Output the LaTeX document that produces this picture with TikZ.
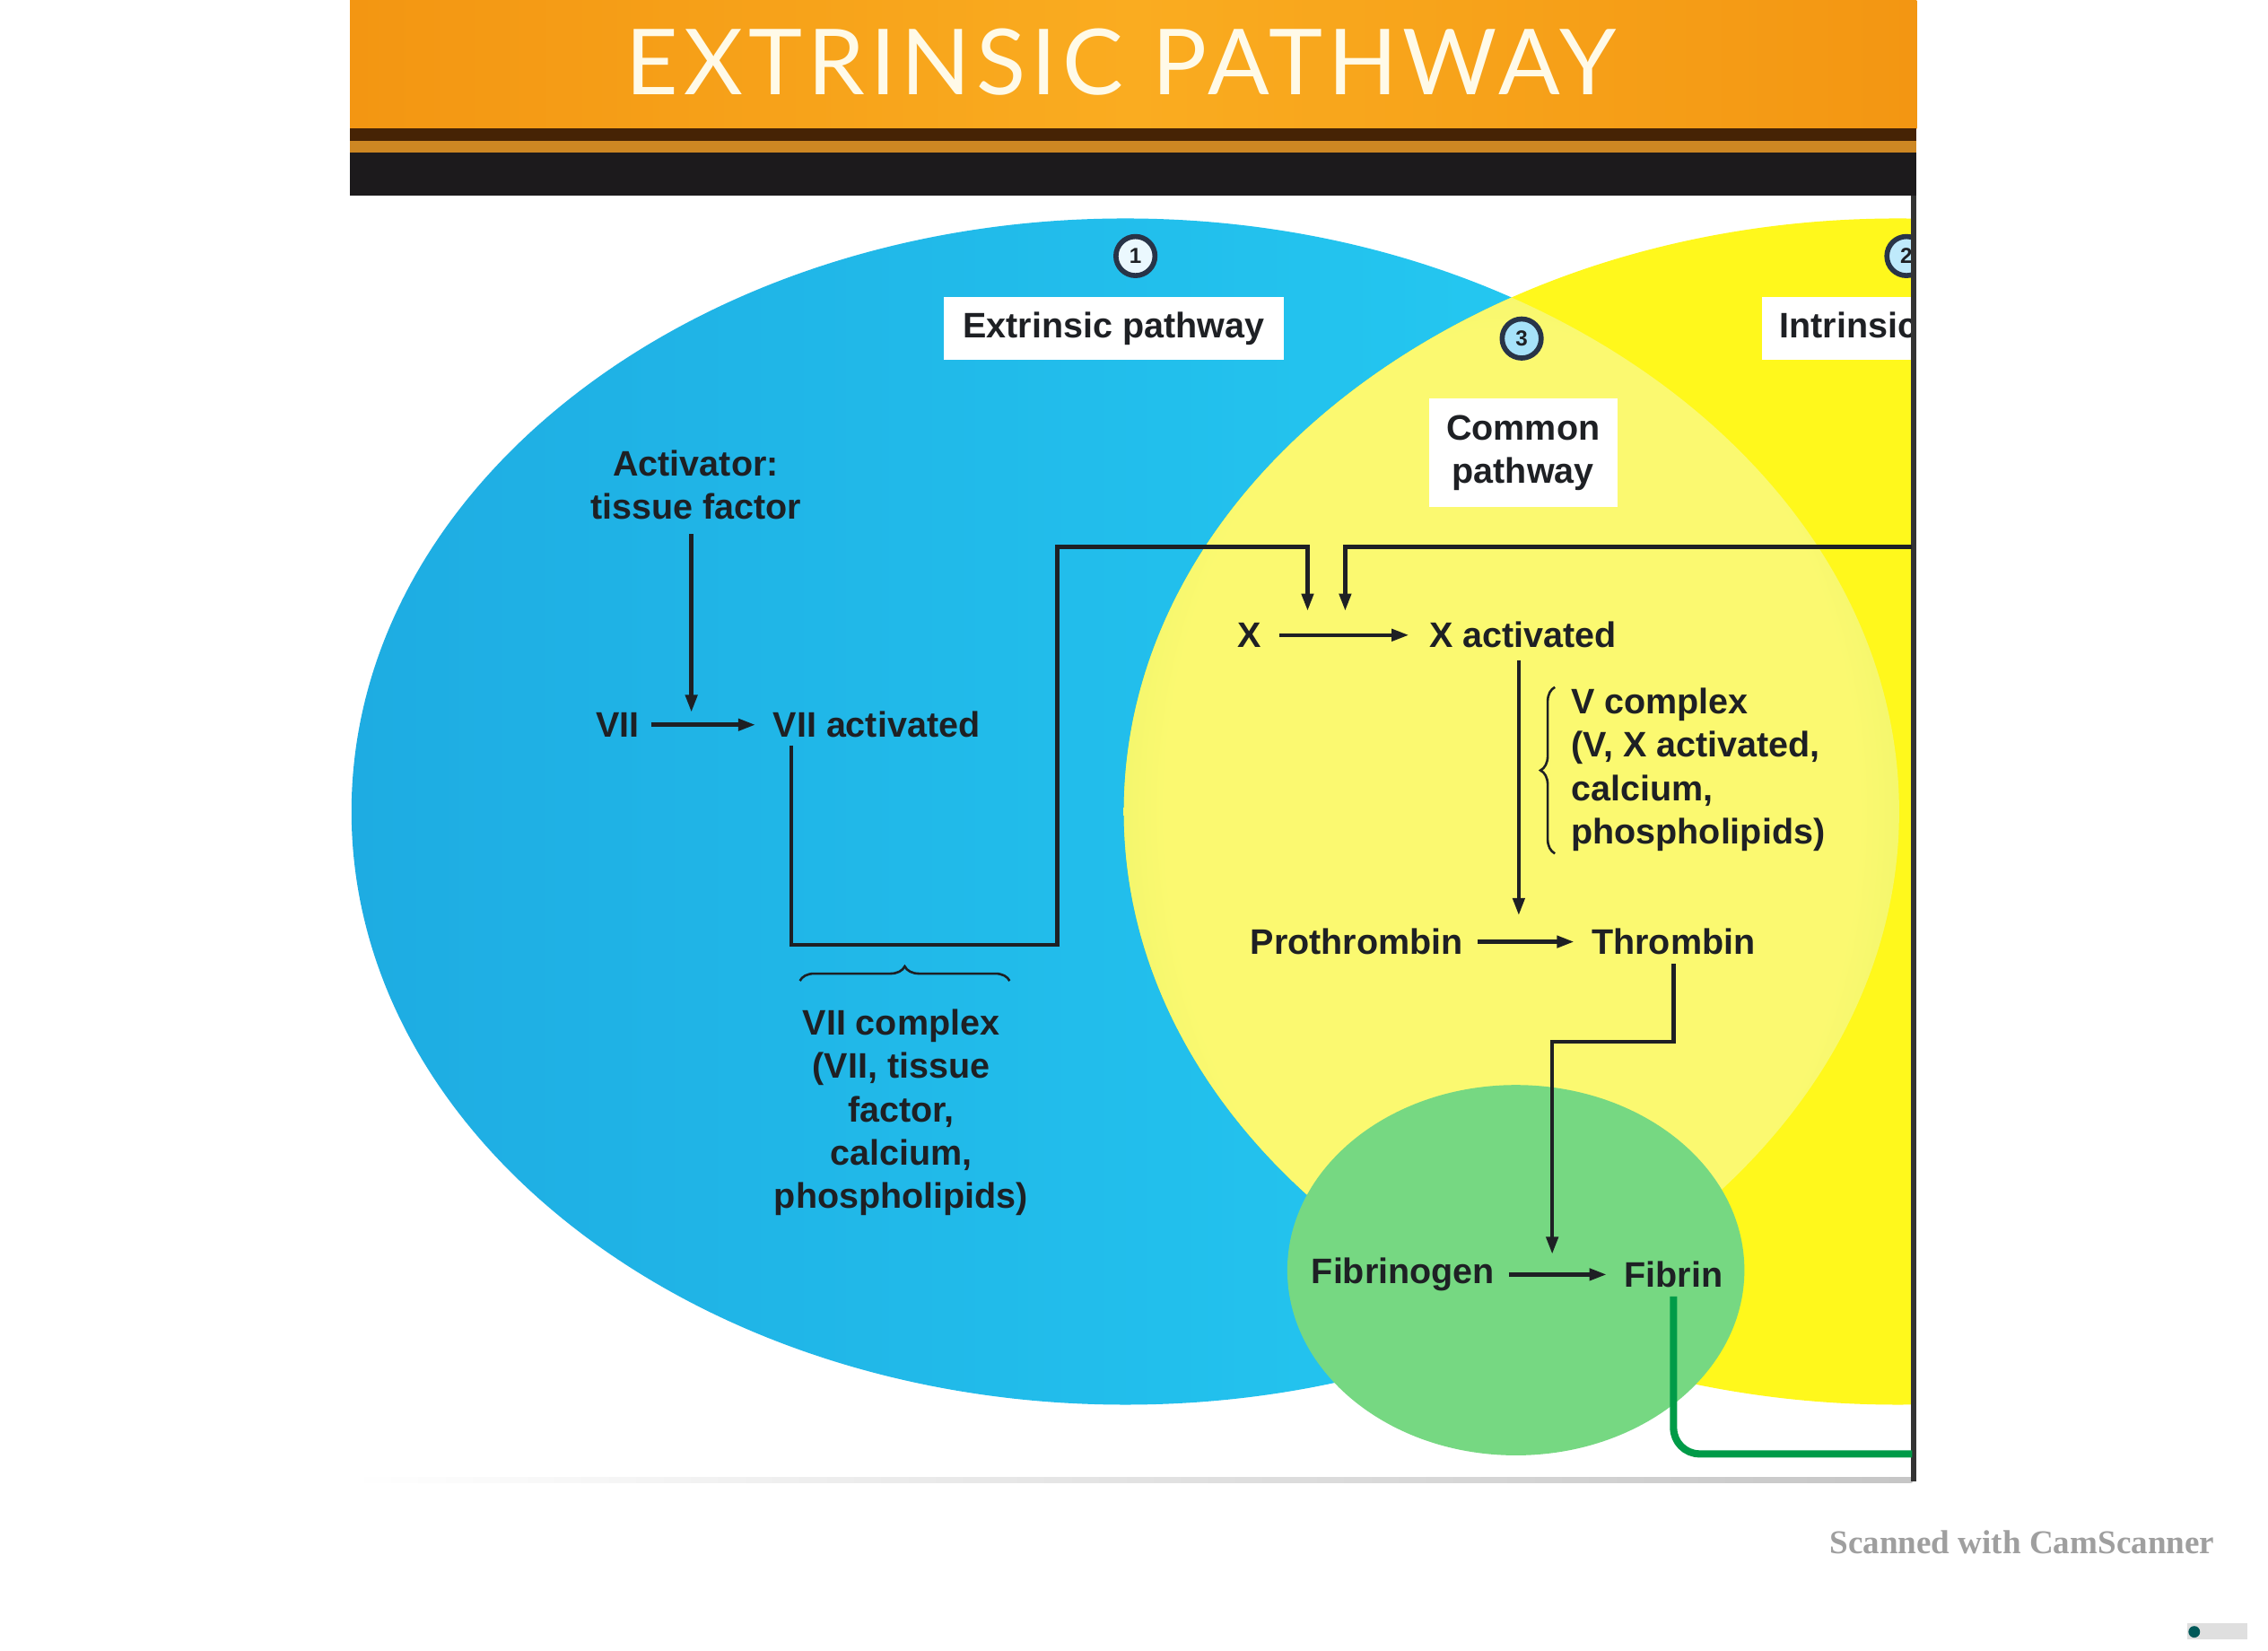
\documentclass[tikz,border=0pt]{standalone}
\usepackage{fontspec}
\setmainfont{Liberation Sans}
\newfontfamily\titlefont[LetterSpace=6]{Lato}
\newfontfamily\scanfont{Liberation Serif}
\usetikzlibrary{arrows.meta,positioning,calc,decorations.pathreplacing}

\definecolor{bandorange}{RGB}{243,150,18}
\definecolor{bandlight}{RGB}{250,172,32}
\definecolor{banddark}{RGB}{70,35,5}
\definecolor{bandstripe}{RGB}{205,135,35}
\definecolor{bandblack}{RGB}{28,26,28}
\definecolor{titlecream}{RGB}{255,250,232}
\definecolor{blueL}{RGB}{30,172,226}
\definecolor{blueR}{RGB}{38,208,245}
\definecolor{yellowfill}{RGB}{255,248,28}
\definecolor{lensin}{RGB}{251,249,112}
\definecolor{lensout}{RGB}{196,230,88}
\definecolor{greenin}{RGB}{118,216,130}
\definecolor{greenout}{RGB}{92,194,104}
\definecolor{inkdark}{RGB}{30,32,36}
\definecolor{ringnavy}{RGB}{40,52,72}
\definecolor{fibgreen}{RGB}{0,155,72}

\pgfdeclareradialshading{lensshade}{\pgfpoint{0bp}{0bp}}{color(0bp)=(lensin); color(22bp)=(lensin); color(43bp)=(lensout); color(50bp)=(lensout)}
\pgfdeclareradialshading{greenshade}{\pgfpoint{0bp}{0bp}}{color(0bp)=(greenin); color(30bp)=(greenin); color(50bp)=(greenout)}

\begin{document}
\begin{tikzpicture}[
    x=1pt, y=-1pt,
    lbl/.style={font=\bfseries\fontsize{24.5}{30}\selectfont, text=inkdark, inner sep=0pt, align=center},
    tag/.style={lbl, fill=white, inner sep=0pt},
    num/.style={circle, draw=ringnavy, line width=3.5pt, inner sep=0pt, minimum size=27pt, text=inkdark, font=\bfseries\fontsize{15}{15}\selectfont},
    link/.style={line width=2.8pt, draw=inkdark, -{Triangle[length=12pt,width=8pt]}},
    brace/.style={line width=1.6pt, draw=inkdark, decorate, decoration={brace, amplitude=10pt}}
]
    \useasboundingbox (0,0) rectangle (1568,1141);
    \fill[white] (0,0) rectangle (1568,1141);

    % title band
    \shade[left color=bandorange, right color=bandorange, middle color=bandlight] (242,0) rectangle (1325,89);
    \fill[banddark] (242,89) rectangle (1325,97.4);
    \fill[bandstripe] (242,97.4) rectangle (1325,105.4);
    \fill[bandblack] (242,105.4) rectangle (1325,135);
    \node[font=\titlefont\fontsize{63}{63}\selectfont, text=titlecream] (title) at (775,43) {EXTRINSIC PATHWAY};

    % venn areas
    \begin{scope}
        \clip (242,135) rectangle (1322,1022);
        \shade[left color=blueL, right color=blueR] (778,561) ellipse (535 and 410);
        \fill[yellowfill] (1312,561) ellipse (535 and 410);
        \begin{scope}
            \clip (778,561) ellipse (535 and 410);
            \clip (1312,561) ellipse (535 and 410);
            \shade[shading=lensshade] (1045,561) ellipse (272 and 378);
        \end{scope}
        \shade[shading=greenshade] (1048,878) ellipse (158 and 128);

        \node[tag, anchor=west, minimum height=43pt, inner xsep=12pt] (intlbl) at (1218,227) {Intrinsic pathway};
        \node[num, fill=cyan!25!white] (num2) at (1318,177) {2};
        \coordinate (intr) at (1322,378);
        \coordinate (fend) at (1322,1005);
    \end{scope}

    % frame edges
    \shade[left color=white, right color=gray!45] (242,1021) rectangle (1322,1025);
    \draw[line width=3.5pt, black!80] (1323,135) -- (1323,1024);

    % region labels
    \node[num, fill=cyan!8!white] (num1) at (785,177) {1};
    \node[tag, minimum width=235pt, minimum height=43pt] (extlbl) at (770,227) {Extrinsic pathway};
    \node[num, fill=cyan!35!white] (num3) at (1052,234) {3};
    \node[tag, minimum width=130pt, minimum height=75pt] (comlbl) at (1053,313) {Common\\pathway};

    % factors
    \node[lbl] (act) at (481,335) {Activator:\\tissue factor};
    \node[lbl] (vii) at (427,501) {VII};
    \node[lbl] (viia) at (606,501) {VII activated};
    \node[lbl] (viicx) at (623,769) {VII complex\\(VII, tissue\\factor,\\calcium,\\phospholipids)};
    \node[lbl] (x) at (864,439) {X};
    \node[lbl] (xa) at (1053,439) {X activated};
    \node[lbl, anchor=west, align=left] (vcx) at (1086,532) {V complex\\(V, X activated,\\calcium,\\phospholipids)};
    \node[lbl] (pro) at (938,651) {Prothrombin};
    \node[lbl] (thr) at (1157,651) {Thrombin};
    \node[lbl] (fbg) at (970,881) {Fibrinogen};
    \node[lbl] (fbn) at (1157,881) {Fibrin};
    \coordinate (fmid) at ($(fbg.east)!0.5!(fbn.west)$);

    % connectors
    \draw[link] ([xshift=-3pt,yshift=-10pt]act.south) -- ([xshift=-3pt]act.south |- vii.north);
    \draw[link] ([xshift=8pt]vii.east) -- ([xshift=-12pt]viia.west);
    \draw[link] ([xshift=-59pt,yshift=-5pt]viia.south) |- (731,653) |- (904,378) -- ([xshift=40pt,yshift=8pt]x.north);
    \draw[link] (intr) -| ([xshift=66pt,yshift=8pt]x.north);
    \draw[link] ([xshift=12pt]x.east) -- ([xshift=-14pt]xa.west);
    \draw[link] ([xshift=-3pt,yshift=-8pt]xa.south) -- ($(xa.south |- pro.north)+(-3,-9)$);
    \draw[link] ([xshift=10pt]pro.east) -- ([xshift=-12pt]thr.west);
    \draw[link] ([yshift=-6pt]thr.south) |- ($(fmid)+(-5,-161)$) -- ($(fmid)+(-5,-14)$);
    \draw[link] ([xshift=10pt]fbg.east) -- ([xshift=-12pt]fbn.west);
    \draw[line width=5pt, fibgreen, rounded corners=18pt] ([yshift=-6pt]fbn.south) |- (fend);

    % complex braces
    \draw[brace] (553,678) -- (698,678);
    \draw[brace] (1075,590) -- (1075,475);

    % scanner stamp
    \node[font=\scanfont\bfseries\fontsize{23}{23}\selectfont, text=gray!75] (scan) at (1398,1066) {Scanned with CamScanner};
    \fill[gray!25] (1512,1122) rectangle (1554,1133);
    \fill[teal!70!black] (1517,1128) circle (4);
\end{tikzpicture}
\end{document}
